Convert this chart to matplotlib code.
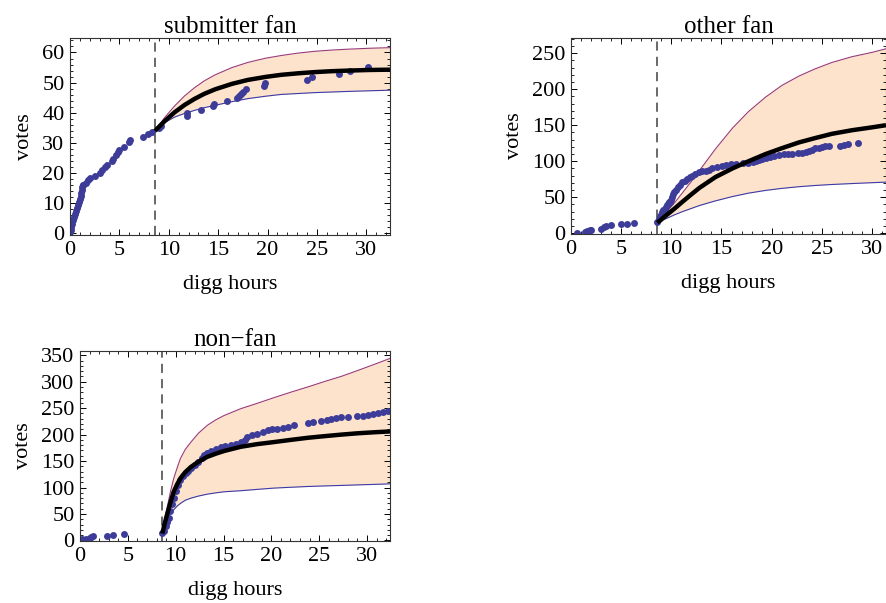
import matplotlib.pyplot as plt
from matplotlib.ticker import MultipleLocator

plt.rcParams['font.family'] = ['Liberation Serif', 'DejaVu Serif']

# vertical marker (digg promotion time)
t_promo = 8.6

# ---- submitter fan ----
sub_px = [0.05, 0.1, 0.15, 0.2, 0.3, 0.4, 0.5, 0.6, 0.7, 0.8, 0.9, 1.0, 1.1, 1.15, 1.2, 1.25, 1.3, 1.35,
          1.6, 1.8, 2.0, 2.5, 3.0, 3.2, 3.5, 3.7, 4.3, 4.4, 4.7, 4.85, 5.0, 5.5, 6.0, 6.1, 7.4, 7.9, 8.3,
          9.0, 9.25, 11.8, 11.8, 13.3, 14.5, 14.6, 15.85, 16.9, 17.1, 17.3, 17.5, 17.8, 19.6, 19.75,
          24.0, 24.5, 27.2, 28.4, 30.2]
sub_py = [0.5, 1.1, 2, 3, 4.4, 5.5, 6.5, 7.5, 8.5, 9.5, 10.5, 11.5, 12.5, 13.5, 14.5, 15.5, 16, 16.2,
          16.8, 17.7, 18.3, 19.2, 20.2, 21, 22, 22.7, 24.0, 24.8, 26, 27, 27.7, 28.8, 30.2, 30.9, 32.1, 33.0, 33.8,
          34.9, 35.7, 39, 40, 41, 42.2, 42.8, 43.8, 44.8, 45.5, 46.2, 47, 47.8, 48.9, 49.8,
          51, 51.8, 52.9, 54, 55.1]
sub_cx = [8.6, 9.6, 10.6, 11.6, 12.6, 13.6, 14.7, 16.4, 18.0, 19.8, 21.4, 23.1, 24.8, 26.5, 28.2, 30.3, 32.4]
sub_fit = [34.0, 37.3, 40.2, 42.6, 44.6, 46.3, 47.8, 49.6, 50.9, 51.9, 52.6, 53.1, 53.5, 53.8, 54.0, 54.2, 54.3]
sub_hi = [34.0, 38.5, 42.3, 45.6, 48.3, 50.6, 52.6, 55.0, 56.7, 58.1, 59.0, 59.8, 60.4, 60.8, 61.1, 61.4, 61.6]
sub_lo = [34.0, 36.8, 38.6, 39.8, 40.8, 41.7, 42.5, 43.7, 44.7, 45.5, 46.1, 46.4, 46.7, 46.9, 47.1, 47.3, 47.5]

# ---- other fan ----
oth_px = [0.6, 1.4, 1.6, 1.9, 2.0, 3.0, 3.3, 3.5, 4.0, 5.0, 5.6, 6.3,
          8.6, 8.75, 8.9, 9.0, 9.1, 9.2, 9.33, 9.45, 9.55, 9.66, 9.8, 9.9, 10.0, 10.1, 10.2, 10.3, 10.45,
          10.65, 10.85, 11.1, 11.35, 11.6, 11.85, 12.1, 12.4, 12.8, 13.1, 13.45, 13.8, 14.1, 14.6, 15.1,
          15.5, 15.9, 16.4, 17.1, 17.6, 18.1, 18.4, 18.7, 19.0, 19.4, 19.8, 20.2, 20.7, 21.2, 21.6, 22.0,
          22.6, 23.0, 23.4, 23.7, 24.0, 24.3, 24.7, 25.0, 25.3, 25.7, 26.8, 27.2, 27.6, 28.6]
oth_py = [1, 1.5, 2.5, 4.5, 5, 6.5, 8.5, 9.5, 11, 12.5, 13, 14,
          15, 20, 24, 26, 29, 32, 34, 37, 39, 41, 43, 44, 46, 50, 54, 57, 60,
          64, 67, 71, 73, 76, 78, 80, 82, 85, 86, 87, 88, 90, 92, 94,
          95, 96, 96, 97.7, 98, 99.5, 100, 102, 103, 104.6, 106, 107.8, 108, 109.6, 110, 110.5,
          111, 112, 113, 114.7, 116, 118, 119, 120, 120.5, 121, 121.6, 123, 124, 125]
oth_cx = [8.6, 9.5, 10.3, 11.1, 12.0, 12.8, 14.4, 16.1, 17.7, 19.4, 21.0, 22.7, 24.3, 26.0, 28.0, 30.0, 31.4]
oth_fit = [14.7, 25, 34, 43.6, 54, 63, 78, 90, 100, 110, 118, 126, 132, 138, 143, 147, 150]
oth_hi = [14.7, 29, 42, 56, 72, 87, 117, 146, 169, 189, 205, 218, 228, 237, 245, 251, 256]
oth_lo = [14.7, 20.5, 25.5, 30, 34.5, 38.5, 45, 51, 55.7, 59.5, 62.3, 64.6, 66.3, 67.7, 69, 70.2, 71]

# ---- non-fan ----
non_px = [0.2, 0.6, 1.0, 1.2, 1.35, 2.85, 3.45, 4.6,
          8.6, 8.75, 8.95, 9.1, 9.3, 9.45, 9.65, 9.8, 10.0, 10.25, 10.5, 10.8, 11.05, 11.3, 11.6, 12.0,
          12.3, 12.7, 13.0, 13.3, 13.65, 14.2, 14.7, 15.2, 15.75, 16.3, 16.8, 17.2, 17.5, 18.0, 18.55,
          19.1, 19.6, 20.1, 20.6, 21.2, 21.7, 22.4, 23.8, 24.4, 25.2, 25.8, 26.2, 26.8, 27.3, 28.0,
          29.0, 29.6, 30.1, 30.6, 31.1, 31.7, 32.2]
non_py = [3, 3, 5, 6, 8, 9, 10.5, 12,
          14, 18, 27, 35, 43, 55, 68, 80, 93, 105, 114, 121, 127, 131, 136, 142,
          149, 155, 161, 165, 169, 173, 177, 178, 180, 183, 186, 190, 196, 199, 202,
          205, 208, 210, 211, 213, 214.5, 219, 222.6, 223, 225, 227, 230, 231, 233, 233,
          236, 236, 237.6, 239, 240.8, 242, 244.5]
non_cx = [8.6, 8.85, 9.1, 9.45, 9.8, 10.15, 10.5, 11.0, 11.6, 12.4, 13.3, 14.2, 15.05, 16.8, 18.5,
          20.3, 22.0, 23.8, 25.5, 27.3, 29.0, 30.8, 32.4]
non_fit = [13, 32, 49, 72, 92.5, 106, 117.5, 129, 139, 149, 158, 164, 169, 177, 182,
           186, 190, 194, 197, 200, 202.5, 204.5, 206]
non_hi = [16, 40, 61, 92, 117.5, 137, 155, 172, 186, 203, 217.5, 228, 236, 249, 259,
          270, 280, 290, 300, 310, 321, 333, 344]
non_lo = [16, 32, 42.5, 52, 58, 65, 70, 76, 80, 84, 87.5, 90, 92, 94, 96.5,
          99, 100.5, 102, 103, 104, 105, 106, 107]

dot_color = '#3d3d99'
band_color = '#fde3cb'


def panel(rect, title, px, py, cx, fit, hi, lo, xmax, ylim, ymaj):
    ax = fig.add_axes(rect)
    ax.fill_between(cx, lo, hi, color=band_color, lw=0)
    ax.plot(cx, hi, color='#9a3a78', lw=0.8)
    ax.plot(cx, lo, color='#3a3aa8', lw=0.8)
    ax.axvline(t_promo, color='#404040', lw=1.1, ls=(0, (6, 4)))
    ax.plot(px, py, 'o', color=dot_color, ms=5, mew=0)
    ax.plot(cx, fit, color='black', lw=3.2, solid_capstyle='butt')
    ax.set_xlim(0, xmax)
    ax.set_ylim(*ylim)
    ax.xaxis.set_major_locator(MultipleLocator(5))
    ax.xaxis.set_minor_locator(MultipleLocator(1))
    ax.yaxis.set_major_locator(MultipleLocator(ymaj))
    ax.yaxis.set_minor_locator(MultipleLocator(ymaj / 5))
    ax.tick_params(which='both', direction='in', top=True, right=True, labelsize=16, pad=4)
    ax.tick_params(which='major', length=4.5, width=0.7)
    ax.tick_params(which='minor', length=2.5, width=0.6)
    for s in ax.spines.values():
        s.set_color('#333333')
        s.set_linewidth(0.8)
    ax.set_title(title, fontsize=18, pad=3)
    ax.set_xlabel('digg hours', fontsize=16, labelpad=11)
    ax.set_ylabel('votes', fontsize=16, labelpad=6)
    return ax


fig = plt.figure(figsize=(8.86, 6.03), dpi=100)

panel([70 / 886, 368 / 603, 320 / 886, 197 / 603], 'submitter fan',
      sub_px, sub_py, sub_cx, sub_fit, sub_hi, sub_lo, 32.4, (-0.5, 64.8), 10)
panel([571 / 886, 369 / 603, 315 / 886, 196 / 603], 'other fan',
      oth_px, oth_py, oth_cx, oth_fit, oth_hi, oth_lo, 31.4, (-1, 271), 50)
panel([80 / 886, 62 / 603, 310 / 886, 190 / 603], 'non\u2212fan',
      non_px, non_py, non_cx, non_fit, non_hi, non_lo, 32.4, (-1, 358), 50)

fig.savefig('out.png', dpi=100)
